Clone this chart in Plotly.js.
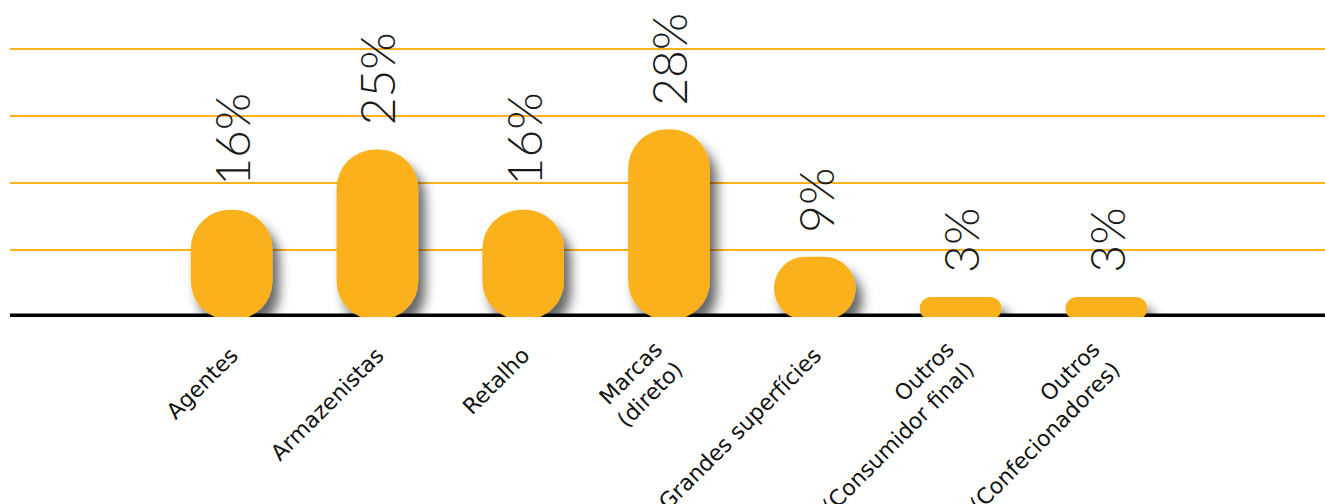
<!DOCTYPE html>
<html><head><meta charset="utf-8">
<script src="https://cdn.plot.ly/plotly-3.0.1.min.js"></script>
<style>html,body{margin:0;padding:0;background:#fff}#chart{width:1325px;height:504px}</style>
</head><body><div id="chart"></div>
<script>
const categories = ['Agentes','Armazenistas','Retalho','Marcas<br>(direto)','Grandes superfícies','Outros<br>(Consumidor final)','Outros<br>(Confecionadores)'];
const values = [16,25,16,28,9,3,3];
const valueLabels = ['16%','25%','16%','28%','9%','3%','3%'];

const barColor = '#FBB11A';

const data = [{
  type:'bar', x:categories, y:values, width:0.56,
  marker:{color:barColor, line:{width:0}},
  cliponaxis:false, hoverinfo:'none'
}];

const annotations = categories.map((c,i)=>({
  x:c, y:values[i], xref:'x', yref:'y', text:valueLabels[i], showarrow:false,
  textangle:-90, yanchor:'bottom', xanchor:'center', yshift:22,
  font:{family:'Lato', size:48, weight:300, color:'#1a1a1a'}
}));

const layout = {
  width:1325, height:504,
  margin:{l:10, r:0, t:0, b:187},
  paper_bgcolor:'#fff', plot_bgcolor:'#fff',
  showlegend:false,
  xaxis:{type:'category', range:[-1.52,7.5], showgrid:false, zeroline:false, showline:false,
    ticks:'', tickangle:-45, ticklabelstandoff:20,
    tickfont:{family:'DejaVu Sans', size:22, color:'#111'}},
  yaxis:{range:[0,47.3], dtick:10, showgrid:true, gridcolor:barColor, gridwidth:2,
    zeroline:false, showticklabels:false, showline:false, ticks:''},
  shapes:[{type:'line', xref:'paper', yref:'y', x0:0, x1:1, y0:0, y1:0,
    line:{color:'#000', width:7}, layer:'below'}],
  annotations:annotations
};

Plotly.newPlot('chart', data, layout, {staticPlot:true}).then(gd => {
  const svg = gd.querySelector('.main-svg');
  const ns = 'http://www.w3.org/2000/svg';
  let defs = svg.querySelector('defs');
  if(!defs){ defs = document.createElementNS(ns,'defs'); svg.insertBefore(defs, svg.firstChild); }
  const f = document.createElementNS(ns,'filter');
  f.setAttribute('id','barShadow'); f.setAttribute('x','-50%'); f.setAttribute('y','-50%');
  f.setAttribute('width','200%'); f.setAttribute('height','200%');
  const ds = document.createElementNS(ns,'feDropShadow');
  ds.setAttribute('dx','7'); ds.setAttribute('dy','11'); ds.setAttribute('stdDeviation','6');
  ds.setAttribute('flood-color','#000'); ds.setAttribute('flood-opacity','0.6');
  f.appendChild(ds); defs.appendChild(f);
  gd.querySelectorAll('.barlayer .point path').forEach(p => {
    const b = p.getBBox();
    const x0=b.x, x1=b.x+b.width, y0=b.y, y1=b.y+b.height+3;
    const h=y1-y0, w=x1-x0;
    const r=Math.min(39, h/2, w/2);
    const d = `M${x0+r},${y0}H${x1-r}A${r},${r} 0 0 1 ${x1},${y0+r}V${y1-r}A${r},${r} 0 0 1 ${x1-r},${y1}H${x0+r}A${r},${r} 0 0 1 ${x0},${y1-r}V${y0+r}A${r},${r} 0 0 1 ${x0+r},${y0}Z`;
    p.setAttribute('d', d);
    p.setAttribute('filter','url(#barShadow)');
  });
  // pull two-line tick labels up/left so their first line ends at the tick like the single-line ones
  gd.querySelectorAll('.xtick text').forEach(t => {
    if(t.querySelectorAll('tspan.line').length > 1){
      const tr = t.getAttribute('transform') || '';
      t.setAttribute('transform', 'translate(-13,-6) ' + tr);
    }
  });
});
</script></body></html>
